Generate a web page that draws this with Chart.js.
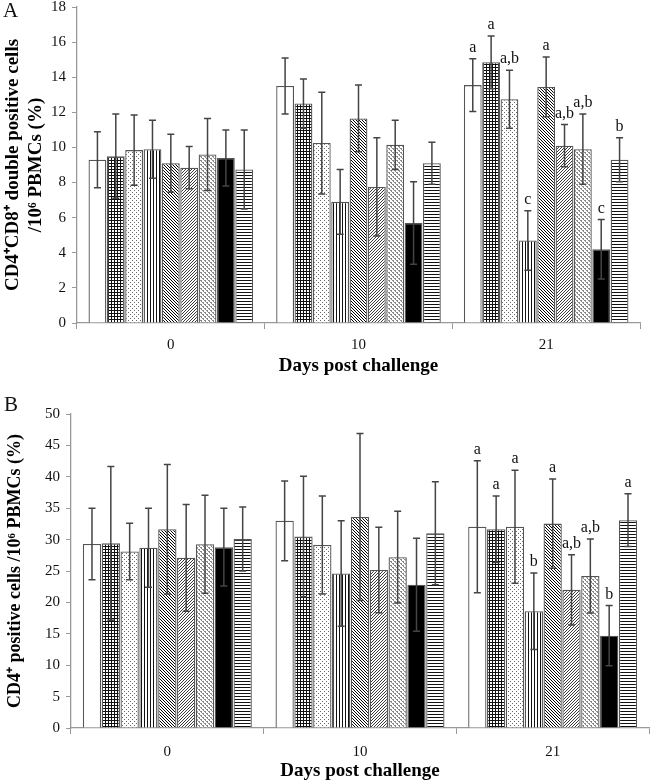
<!DOCTYPE html>
<html>
<head>
<meta charset="utf-8">
<script src="https://cdn.jsdelivr.net/npm/chart.js@4/dist/chart.umd.min.js"></script>
<style>
  body { margin: 0; background: #fff; }
  #wrap { position: relative; width: 650px; height: 783px; overflow: hidden; }
  .panel { position: absolute; left: 0; }
  .tag { position: absolute; font: 21px 'Liberation Serif', serif; color: #111; }
</style>
</head>
<body>
<div id="wrap">
  <canvas id="chartA" class="panel" width="650" height="385" style="top:-8px"></canvas>
  <canvas id="chartB" class="panel" width="650" height="383" style="top:399px"></canvas>
  <div class="tag" style="left:3px;top:-2px">A</div>
  <div class="tag" style="left:4px;top:392px">B</div>
</div>
<script>
// x categories
const days = ['0', '10', '21'];

// panel A: CD4+CD8+ double positive cells (mean, sd) per day, 9 groups
const dpMean0 = [9.3, 9.5, 9.85, 9.9, 9.1, 8.85, 9.6, 9.4, 8.75];
const dpMean10 = [13.5, 12.5, 10.25, 6.9, 11.65, 7.75, 10.15, 5.7, 9.1];
const dpMean21 = [13.55, 14.85, 12.75, 4.7, 13.45, 10.1, 9.9, 4.2, 9.3];
const dpSd0 = [1.6, 2.4, 2.0, 1.65, 1.65, 1.2, 2.05, 1.6, 2.25];
const dpSd10 = [1.6, 1.4, 2.9, 1.85, 1.9, 2.8, 1.4, 2.35, 1.2];
const dpSd21 = [1.5, 1.5, 1.65, 1.7, 1.7, 1.2, 2.0, 1.7, 1.25];
const dpLetters21 = ['a', 'a', 'a,b', 'c', 'a', 'a,b', 'a,b', 'c', 'b'];

// panel B: CD4+ positive cells
const cd4Mean0 = [29.3, 29.4, 28.1, 28.7, 31.65, 27.1, 29.25, 28.8, 30.1];
const cd4Mean10 = [33.0, 30.5, 29.15, 24.6, 33.6, 25.15, 27.2, 22.8, 31.0];
const cd4Mean21 = [32.05, 31.65, 32.05, 18.6, 32.55, 22.0, 24.2, 14.7, 33.1];
const cd4Sd0 = [5.7, 12.25, 4.5, 6.3, 10.3, 8.5, 7.8, 6.2, 5.1];
const cd4Sd10 = [6.35, 9.6, 7.8, 8.4, 13.3, 6.8, 7.3, 7.4, 8.2];
const cd4Sd21 = [10.5, 5.3, 9.0, 6.1, 7.1, 5.6, 5.9, 4.8, 4.2];
const cd4Letters21 = ['a', 'a', 'a', 'b', 'a', 'a,b', 'a,b', 'b', 'a'];

const serif = "'Liberation Serif', 'Times New Roman', serif";

// small tiles for the bar fills
function tile(size, draw) {
  const c = document.createElement('canvas');
  c.width = size; c.height = size;
  const g = c.getContext('2d');
  g.fillStyle = '#fff';
  g.fillRect(0, 0, size, size);
  draw(g, size);
  return g.createPattern(c, 'repeat');
}

const fills = [
  '#ffffff',
  tile(3, (g) => { g.fillStyle = '#111'; g.fillRect(0, 0, 3, 1); g.fillRect(0, 0, 1, 3); }),
  tile(4, (g) => { g.fillStyle = '#666'; g.fillRect(0, 0, 1, 1); g.fillRect(2, 2, 1, 1); }),
  tile(3, (g) => { g.fillStyle = '#111'; g.fillRect(0, 0, 1, 3); }),
  tile(3, (g) => { g.fillStyle = '#000'; for (let i = 0; i < 3; i++) g.fillRect(i, i, 1, 1); }),
  tile(3, (g) => { g.fillStyle = '#3a3a3a'; for (let i = 0; i < 3; i++) g.fillRect(2 - i, i, 1, 1); }),
  tile(4, (g) => { g.fillStyle = '#888'; g.fillRect(0, 0, 2, 1); g.fillRect(2, 2, 2, 1); g.fillRect(1, 1, 1, 1); g.fillRect(3, 3, 1, 1); }),
  '#000000',
  tile(3, (g) => { g.fillStyle = '#111'; g.fillRect(0, 0, 3, 1); }),
];

// error bars + letters, placed through the chart's own scales
const errorBars = {
  id: 'errorBars',
  afterDatasetsDraw(chart) {
    const ctx = chart.ctx;
    const y = chart.scales.y;
    ctx.save();
    ctx.strokeStyle = '#444';
    ctx.lineWidth = 1.5;
    chart.data.datasets.forEach((ds, i) => {
      const meta = chart.getDatasetMeta(i);
      meta.data.forEach((bar, j) => {
        const v = ds.data[j];
        const sd = ds.sd[j];
        const top = y.getPixelForValue(v + sd);
        const bot = y.getPixelForValue(v - sd);
        ctx.beginPath();
        ctx.moveTo(bar.x, top); ctx.lineTo(bar.x, bot);
        ctx.moveTo(bar.x - 3.5, top); ctx.lineTo(bar.x + 3.5, top);
        ctx.moveTo(bar.x - 3.5, bot); ctx.lineTo(bar.x + 3.5, bot);
        ctx.stroke();
        const lab = ds.letters[j];
        if (lab) {
          ctx.fillStyle = '#111';
          ctx.font = '16px ' + serif;
          ctx.textAlign = 'center';
          ctx.textBaseline = 'bottom';
          ctx.fillText(lab, bar.x, top - 3);
        }
      });
    });
    ctx.restore();
  }
};

function makeChart(id, means, sds, letters, yMax, yStep, yTitle, yTitleSize, yTitlePad, axisWidth, padRight, tickPad) {
  const datasets = fills.map((f, i) => ({
    data: means.map((m) => m[i]),
    sd: sds.map((s) => s[i]),
    letters: ['', '', letters[i]],
    backgroundColor: f,
    borderColor: '#555',
    borderWidth: 1.3,
    categoryPercentage: 0.88,
    barPercentage: 0.97,
  }));
  return new Chart(document.getElementById(id), {
    type: 'bar',
    data: { labels: days, datasets },
    options: {
      responsive: false,
      animation: false,
      devicePixelRatio: 1,
      layout: { padding: { left: 0, right: padRight, top: 0, bottom: 0 } },
      plugins: { legend: { display: false }, tooltip: { enabled: false } },
      scales: {
        x: {
          grid: { display: true, drawOnChartArea: false, drawTicks: true, tickLength: 6, color: '#999', offset: true },
          border: { color: '#999', width: 1.3 },
          ticks: { font: { family: serif, size: 15 }, color: '#111', padding: tickPad },
          title: { display: true, text: 'Days post challenge', font: { family: serif, size: 19, weight: 'bold' }, color: '#000', padding: { top: 0, bottom: 0 } },
          afterFit: (s) => { s.height = 54; },
        },
        y: {
          min: 0, max: yMax,
          grid: { display: true, drawOnChartArea: false, drawTicks: true, tickLength: 5, color: '#999' },
          border: { color: '#999', width: 1.3 },
          ticks: { stepSize: yStep, font: { family: serif, size: 15 }, color: '#111', padding: 6 },
          title: { display: true, text: yTitle, font: { family: serif, size: yTitleSize, weight: 'bold' }, color: '#000', padding: { top: yTitlePad, bottom: 0 } },
          afterFit: (s) => { s.width = axisWidth; },
        },
      },
    },
    plugins: [errorBars],
  });
}

makeChart('chartA', [dpMean0, dpMean10, dpMean21], [dpSd0, dpSd10, dpSd21], dpLetters21,
  18, 2, ['CD4\u207aCD8\u207a double positive cells', '/10\u2076 PBMCs (%)'], 19, 2, 77, 10, 7);
makeChart('chartB', [cd4Mean0, cd4Mean10, cd4Mean21], [cd4Sd0, cd4Sd10, cd4Sd21], cd4Letters21,
  50, 5, 'CD4\u207a positive cells /10\u2076 PBMCs (%)', 18, 5, 71, 1, 9);
</script>
</body>
</html>
